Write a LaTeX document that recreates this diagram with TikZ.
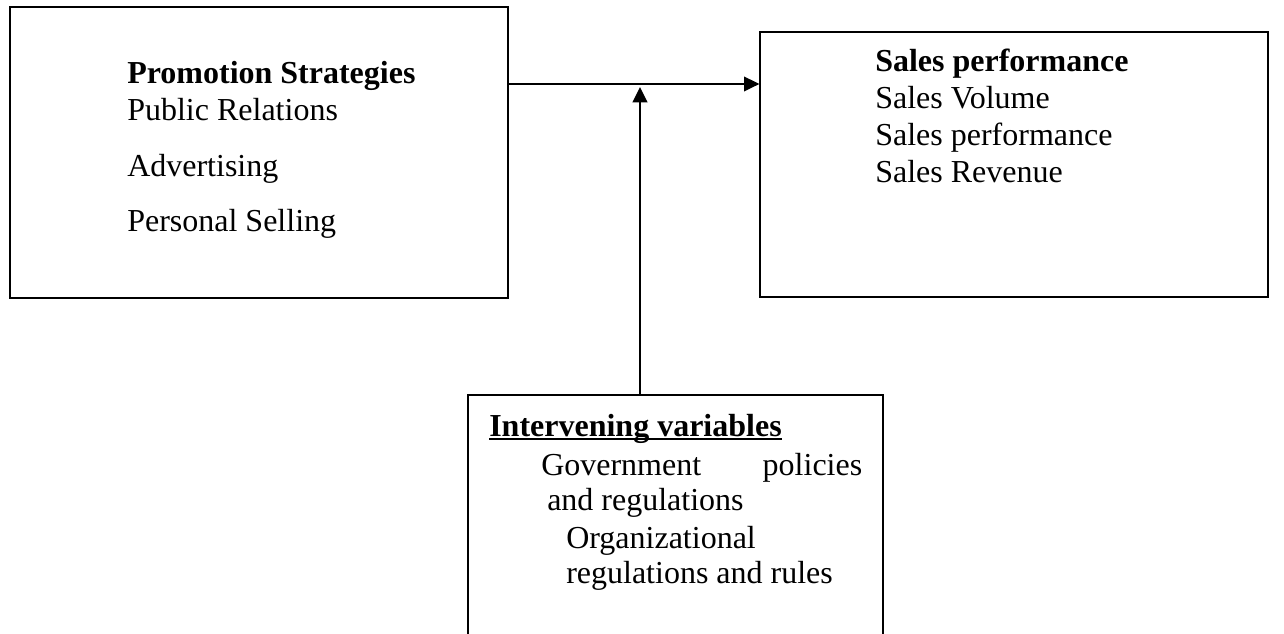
\documentclass[tikz,border=0pt]{standalone}
\usepackage{fontspec}
\setmainfont{Liberation Serif}
\usepackage{tikz}
\usetikzlibrary{arrows.meta}
\usetikzlibrary{positioning}
\tikzset{box/.style = {draw, line width = 1pt, inner sep = 0}}
\tikzset{txt/.style = {anchor = base west, inner sep = 0, font = \fontsize{24}{28}\selectfont}}
\tikzset{conn/.style = {line width = 1.5pt, -{Triangle[length = 11.5pt, width = 11pt]}}}

\begin{document}
\begin{tikzpicture}[x = 0.75pt, y = -0.75pt]
      \useasboundingbox (0, 0) rectangle (1284, 634);
      \clip (0, 0) rectangle (1284, 634);

      \node[box, minimum width = 373.5pt, minimum height = 218.25pt] (promo) at (259, 152.5) {};
      \node[box, minimum width = 381pt, minimum height = 198.75pt] (sales) at (1014, 164.5) {};
      \node[box, minimum width = 311.25pt, minimum height = 228.75pt] (interv) at (675.5, 547.5) {};

      \node[txt] (promohead) at (127, 84) {\bfseries Promotion Strategies};
      \node[txt] (promopr) at (127, 121) {Public Relations};
      \node[txt] (promoad) at (127, 177) {Advertising};
      \node[txt] (promops) at (127, 232) {Personal Selling};

      \node[txt] (saleshead) at (875, 72) {\bfseries Sales performance};
      \node[txt] (salesvol) at (875, 109) {Sales Volume};
      \node[txt] (salesperf) at (875, 146) {Sales performance};
      \node[txt] (salesrev) at (875, 183) {Sales Revenue};

      \node[txt] (ivhead) at (489, 436) {\bfseries Intervening variables};
      \draw[line width = 1.5pt] ([yshift = -2pt]ivhead.base west) -- ([yshift = -2pt]ivhead.base east);
      \node[txt] (ivgov) at (541, 475) {\makebox[240.75pt][s]{Government policies}};
      \node[txt] (ivgovb) at (547, 510) {and regulations};
      \node[txt] (ivorg) at (566, 548) {Organizational};
      \node[txt] (ivorgb) at (566, 583) {regulations and rules};

      \coordinate (hline) at (0, 84);
      \coordinate (vline) at (640, 0);
      \draw[conn] (promo.east |- hline) -- (sales.west |- hline);
      \draw[conn] (interv.north -| vline) -- ([yshift = -2.25pt]vline |- hline);
    \end{tikzpicture}
\end{document}
